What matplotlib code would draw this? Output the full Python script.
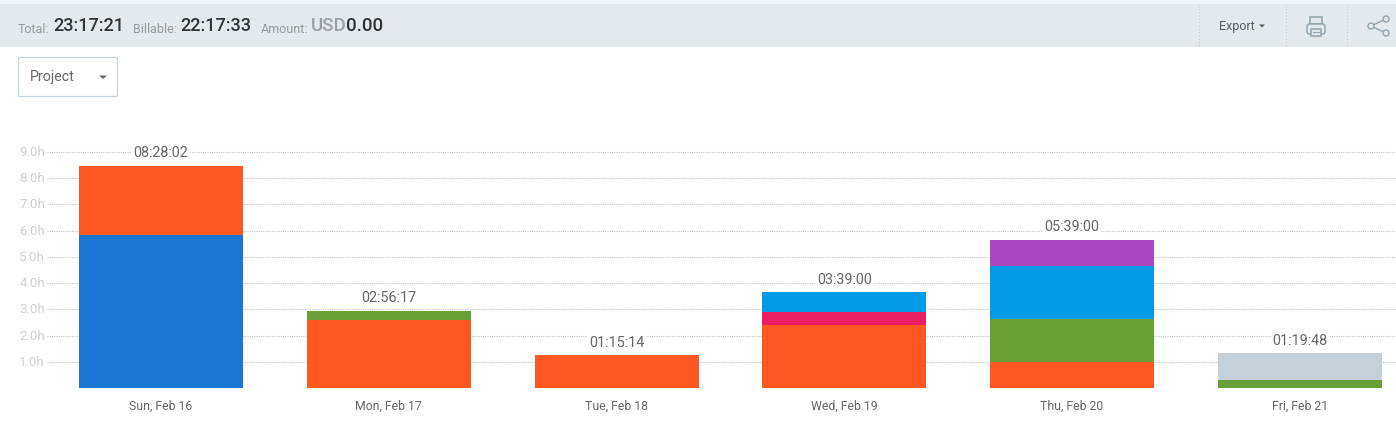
"""
    Time report page: header strip, project dropdown and stacked daily hours.
"""
import matplotlib
matplotlib.use('Agg')
import matplotlib.pyplot as plt
from matplotlib.patches import Rectangle, FancyBboxPatch, Circle, Polygon
from matplotlib.transforms import ScaledTranslation

plt.rcParams['font.family'] = ['Roboto', 'DejaVu Sans']

days = ["Sun, Feb 16", "Mon, Feb 17", "Tue, Feb 18", "Wed, Feb 19", "Thu, Feb 20", "Fri, Feb 21"]
totals = ["08:28:02", "02:56:17", "01:15:14", "03:39:00", "05:39:00", "01:19:48"]
yticks = [1, 2, 3, 4, 5, 6, 7, 8, 9]

# hours per project, bottom to top
darkblue = [5.84, 0, 0, 0, 0, 0]
orange = [2.63, 2.58, 1.25, 2.4, 1.0, 0]
green = [0, 0.36, 0, 0, 1.65, 0.33]
pink = [0, 0, 0, 0.5, 0, 0]
blue = [0, 0, 0, 0.75, 2.0, 0]
purple = [0, 0, 0, 0, 1.0, 0]
grey = [0, 0, 0, 0, 0, 1.0]

series = [(darkblue, "#1976d2"), (orange, "#ff5722"), (green, "#689f38"), (pink, "#e91e63"),
          (blue, "#039be5"), (purple, "#ab47bc"), (grey, "#c5d0d8")]

W, H = 1396, 428
fig = plt.figure(figsize=(W/100, H/100), dpi=100, facecolor="white")

###### CHART ######
base = 388.3
px_per_hour = 26.3
band = 227.8
ax = fig.add_axes([47/W, 1-base/H, (W-47)/W, 9.6*px_per_hour/H])
ax.set_xlim(-0.5, -0.5+(W-47)/band)
ax.set_ylim(0, 9.6)
for s in ax.spines.values():
    s.set_visible(False)
ax.set_axisbelow(True)
ax.grid(axis="y", color="#c4c4c4", linestyle=(0, (1, 1)), linewidth=0.8)
ax.set_yticks(yticks)
ax.set_yticklabels(["{:.1f}h".format(v) for v in yticks], fontsize=9.5, color="#d0d0d0")
ax.set_xticks(range(len(days)))
ax.set_xticklabels(days, fontsize=8.8, color="#666666")
ax.tick_params(axis="both", length=0)
ax.tick_params(axis="y", pad=1.5)
ax.tick_params(axis="x", pad=8.5)

# y labels sit a pixel above their gridline in the reference
up = ScaledTranslation(0, 1/100, fig.dpi_scale_trans)
for lab in ax.get_yticklabels():
    lab.set_transform(lab.get_transform() + up)

bottom = [0]*len(days)
for vals, col in series:
    ax.bar(range(len(days)), vals, bottom=bottom, width=164/band, color=col, edgecolor="none")
    bottom = [b+v for b, v in zip(bottom, vals)]

for i, t in enumerate(totals):
    ax.text(i, bottom[i]+0.21, t, ha="center", va="bottom", fontsize=10.4, color="#666666",
            bbox=dict(facecolor="white", edgecolor="none", pad=1))

###### PAGE CHROME (pixel coordinates) ######
ui = fig.add_axes([0, 0, 1, 1], zorder=3)
ui.set_xlim(0, W)
ui.set_ylim(H, 0)
ui.axis("off")
ui.patch.set_alpha(0)

ui.add_patch(Rectangle((0, 0), W, 4, color="#f2f6f8", lw=0))
ui.add_patch(Rectangle((0, 4), W, 43, color="#e4e9ed", lw=0))

ui.text(18, 29, "Total:", fontsize=9, color="#9a9a9a", va="center")
ui.text(53, 26, "23:17:21", fontsize=13, color="#333333", va="center", weight="medium")
ui.text(133, 29, "Billable:", fontsize=9, color="#9a9a9a", va="center")
ui.text(180, 26, "22:17:33", fontsize=13, color="#333333", va="center", weight="medium")
ui.text(261, 29, "Amount:", fontsize=9, color="#9a9a9a", va="center")
ui.text(311, 26, "USD", fontsize=13.5, color="#9aa0a6", va="center", weight="medium")
ui.text(346, 26, "0.00", fontsize=13.5, color="#333333", va="center", weight="medium")

for x in [1198.5, 1285.5, 1346.5]:
    ui.plot([x, x], [5, 47], color="#c8cdd1", linewidth=0.8, linestyle=(0, (1, 2)))
ui.text(1219, 26, "Export", fontsize=9, color="#555f66", va="center")
ui.add_patch(Polygon([(1259, 24.5), (1265, 24.5), (1262, 27.5)], color="#555f66", lw=0))

# printer icon
icon = "#93a4ad"
ui.add_patch(Rectangle((1310, 17), 12, 7, fill=False, ec=icon, lw=1.1))
ui.add_patch(FancyBboxPatch((1307, 24), 18, 10, boxstyle="round,pad=0,rounding_size=2.5", fc="#e4e9ed", ec=icon, lw=1.1))
ui.add_patch(Rectangle((1311, 29), 10, 7, fc="#e4e9ed", ec=icon, lw=1.1))
ui.plot([1313, 1319], [32, 32], color=icon, lw=0.8)

# share icon
ui.plot([1386, 1371, 1386], [19, 26, 33], color=icon, lw=1)
for cx, cy in [(1386, 19), (1371, 26), (1386, 33)]:
    ui.add_patch(Circle((cx, cy), 3, fc="#e4e9ed", ec=icon, lw=1, zorder=4))

# dropdown
ui.add_patch(FancyBboxPatch((18.5, 57.5), 99, 39, boxstyle="round,pad=0,rounding_size=1.5", fc="white", ec="#c5d3de", lw=0.9))
ui.text(30, 77, "Project", fontsize=10.3, color="#666666", va="center")
ui.add_patch(Polygon([(99, 75.5), (107, 75.5), (103, 79)], color="#666666", lw=0))

plt.savefig("out.png", dpi=100)
